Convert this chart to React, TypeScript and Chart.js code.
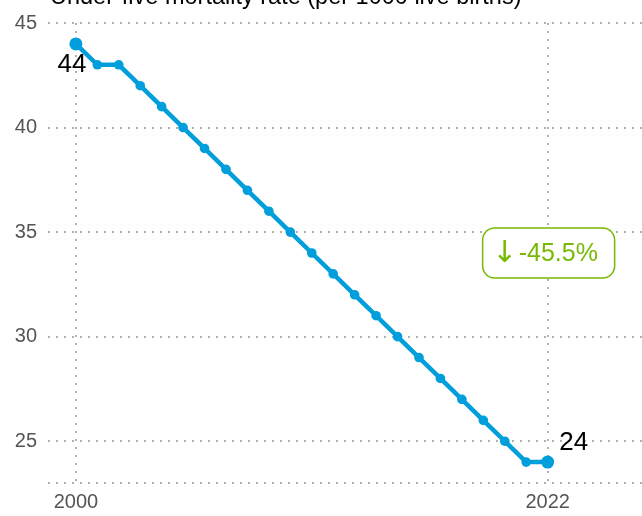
import React, { useEffect, useRef } from "react";
import { Chart, registerables } from "chart.js";

Chart.register(...registerables);

const years = [2000, 2001, 2002, 2003, 2004, 2005, 2006, 2007, 2008, 2009, 2010, 2011, 2012, 2013, 2014, 2015, 2016, 2017, 2018, 2019, 2020, 2021, 2022];
const values = [44, 43, 43, 42, 41, 40, 39, 38, 37, 36, 35, 34, 33, 32, 31, 30, 29, 28, 27, 26, 25, 24, 24];
const xTicks = [2000, 2022];
const yTicks = [23, 25, 30, 35, 40, 45];
const titleText = "Under-five mortality rate (per 1000 live births)";
const changeArrow = "↓";
const changeText = "-45.5%";
const changeAnchor = { x: 2022, y: 34 };

const BLUE = "#009edb";
const GREEN = "#76b900";
const FONT = "'Liberation Sans', Arial, sans-serif";

const overlay = {
  id: "overlay",
  afterDatasetsDraw(chart: any) {
    const ctx = chart.ctx;
    const xs = chart.scales.x;
    const ys = chart.scales.y;
    ctx.save();
    ctx.fillStyle = "#000";
    ctx.font = `23.5px ${FONT}`;
    ctx.textAlign = "left";
    ctx.textBaseline = "alphabetic";
    ctx.fillText(titleText, 50, 4);

    ctx.font = `26px ${FONT}`;
    ctx.textAlign = "center";
    ctx.textBaseline = "middle";
    const n = values.length;
    ctx.fillText(String(values[0]), xs.getPixelForValue(years[0]) - 4, ys.getPixelForValue(values[0]) + 21);
    ctx.fillText(String(values[n - 1]), xs.getPixelForValue(years[n - 1]) + 26, ys.getPixelForValue(values[n - 1]) - 19);

    const cx = xs.getPixelForValue(changeAnchor.x) + 1;
    const cy = ys.getPixelForValue(changeAnchor.y);
    const w = 132, h = 50, r = 12;
    ctx.beginPath();
    ctx.roundRect(cx - w / 2, cy - h / 2, w, h, r);
    ctx.fillStyle = "#fff";
    ctx.fill();
    ctx.lineWidth = 1.5;
    ctx.strokeStyle = GREEN;
    ctx.stroke();
    ctx.fillStyle = GREEN;
    ctx.font = `30px 'DejaVu Sans', sans-serif`;
    ctx.textAlign = "center";
    ctx.fillText(changeArrow, cx - 44, cy + 1);
    ctx.font = `25px ${FONT}`;
    ctx.textAlign = "left";
    ctx.fillText(changeText, cx - 30, cy + 1);
    ctx.restore();
  },
};

export default function App() {
  const ref = useRef<HTMLCanvasElement>(null);
  useEffect(() => {
    if (!ref.current) return;
    const gridCommon = { color: "#b0b0b0", lineWidth: 2, drawTicks: false };
    const chart = new Chart(ref.current, {
      type: "line",
      data: {
        datasets: [
          {
            data: years.map((y, i) => ({ x: y, y: values[i] })),
            borderColor: BLUE,
            backgroundColor: BLUE,
            borderWidth: 4.5,
            pointRadius: values.map((_, i) => (i === 0 || i === values.length - 1 ? 6.5 : 4.8)),
            pointBackgroundColor: BLUE,
            pointBorderWidth: 0,
            tension: 0,
          },
        ],
      },
      options: {
        animation: false,
        responsive: true,
        maintainAspectRatio: false,
        layout: { autoPadding: false, padding: { top: 21, left: 0, right: 0, bottom: 0 } },
        plugins: { legend: { display: false }, tooltip: { enabled: false }, title: { display: false } },
        scales: {
          x: {
            type: "linear",
            min: 1998.7,
            max: 2026.4,
            afterBuildTicks: (axis: any) => {
              axis.ticks = xTicks.map((v) => ({ value: v }));
            },
            afterFit: (axis: any) => {
              axis.height = 33;
            },
            ticks: {
              callback: (v: any) => String(v),
              color: "#555",
              font: { family: FONT, size: 20 },
              padding: 7,
              autoSkip: false,
              maxRotation: 0,
            },
            grid: gridCommon,
            border: { display: false, dash: [2, 6] },
          },
          y: {
            min: 23,
            max: 45,
            afterBuildTicks: (axis: any) => {
              axis.ticks = yTicks.map((v) => ({ value: v }));
            },
            afterFit: (axis: any) => {
              axis.width = 48;
            },
            ticks: {
              callback: (v: any) => (v === 23 ? "" : String(v)),
              color: "#555",
              font: { family: FONT, size: 20 },
              padding: 11,
              autoSkip: false,
            },
            grid: gridCommon,
            border: { display: false, dash: [2, 6] },
          },
        },
      },
      plugins: [overlay],
    } as any);
    return () => chart.destroy();
  }, []);
  return (
    <div style={{ position: "absolute", left: 0, top: 0, width: 642, height: 516 }}>
      <canvas ref={ref} />
    </div>
  );
}
